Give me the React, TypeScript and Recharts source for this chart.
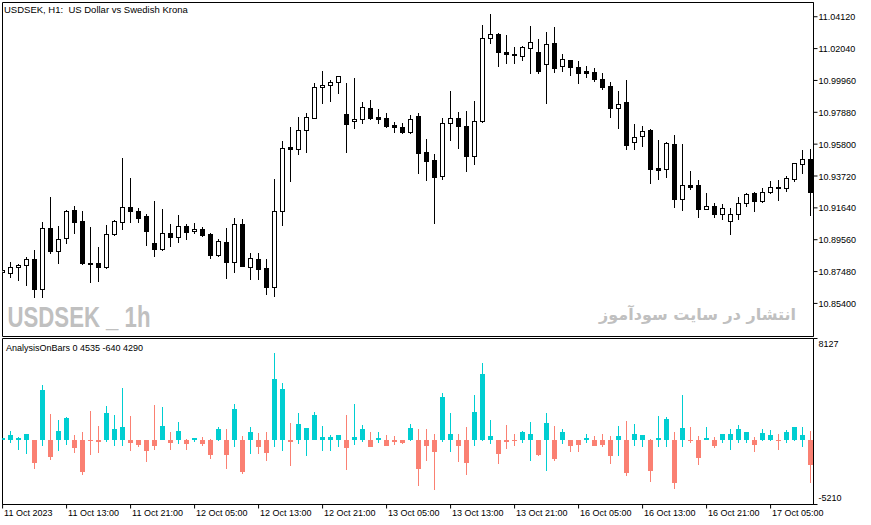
import React from 'react';
import { ComposedChart, Bar, XAxis, YAxis, ReferenceArea, Customized } from 'recharts';

// ---- price candles (USDSEK H1) ----
const opens = [
  10.8745, 10.8740, 10.8776, 10.8789, 10.8830, 10.8632, 10.9030, 10.8884, 10.8965, 10.9150,
  10.9078, 10.8804, 10.8802, 10.8779, 10.8991, 10.9069, 10.9167, 10.9143, 10.9111, 10.8932,
  10.8893, 10.8998, 10.8971, 10.9045, 10.9013, 10.9026, 10.8993, 10.8856, 10.8939, 10.8812,
  10.9056, 10.8779, 10.8830, 10.8769, 10.8649, 10.9145, 10.9561, 10.9546, 10.9672, 10.9752,
  10.9951, 10.9964, 10.9984, 10.9775, 10.9731, 10.9744, 10.9814, 10.9759, 10.9749, 10.9705,
  10.9690, 10.9657, 10.9764, 10.9527, 10.9476, 10.9374, 10.9716, 10.9751, 10.9698, 10.9504,
  10.9733, 11.0271, 11.0299, 11.0181, 11.0170, 11.0155, 11.0206, 11.0180, 11.0101, 11.0238,
  11.0088, 11.0129, 11.0082, 11.0059, 11.0051, 11.0005, 10.9959, 10.9818, 10.9855, 10.9592,
  10.9633, 10.9672, 10.9422, 10.9415, 10.9581, 10.9220, 10.9313, 10.9313, 10.9158, 10.9176,
  10.9122, 10.9076, 10.9122, 10.9194, 10.9259, 10.9209, 10.9265, 10.9295, 10.9295, 10.9350,
  10.9450, 10.9481,
];
const closes = [
  10.8755, 10.8779, 10.8791, 10.8830, 10.8632, 10.9030, 10.8884, 10.8960, 10.9143, 10.9073,
  10.8806, 10.8800, 10.8779, 10.8991, 10.9078, 10.9167, 10.9145, 10.9099, 10.9015, 10.8893,
  10.8998, 10.8971, 10.9045, 10.9008, 10.9026, 10.8986, 10.8856, 10.8947, 10.8812, 10.9056,
  10.8786, 10.8834, 10.8764, 10.8649, 10.9143, 10.9553, 10.9546, 10.9672, 10.9755, 10.9951,
  10.9966, 10.9986, 11.0023, 10.9709, 10.9744, 10.9824, 10.9749, 10.9746, 10.9700, 10.9690,
  10.9661, 10.9742, 10.9524, 10.9472, 10.9367, 10.9716, 10.9751, 10.9700, 10.9504, 10.9731,
  11.0271, 11.0299, 11.0180, 11.0166, 11.0160, 11.0212, 11.0245, 11.0059, 11.0234, 11.0079,
  11.0139, 11.0082, 11.0046, 11.0046, 11.0003, 10.9955, 10.9818, 10.9844, 10.9576, 10.9626,
  10.9666, 10.9415, 10.9411, 10.9585, 10.9224, 10.9311, 10.9300, 10.9158, 10.9176, 10.9122,
  10.9161, 10.9122, 10.9194, 10.9254, 10.9207, 10.9265, 10.9302, 10.9300, 10.9357, 10.9455,
  10.9481, 10.9269,
];
const highs = [
  10.8771, 10.8812, 10.8797, 10.8845, 10.8889, 10.9069, 10.9233, 10.9045, 10.9150, 10.9176,
  10.9145, 10.9041, 10.8910, 10.9052, 10.9084, 10.9487, 10.9357, 10.9161, 10.9124, 10.9209,
  10.9154, 10.9056, 10.9117, 10.9058, 10.9063, 10.9041, 10.8998, 10.8960, 10.9030, 10.9096,
  10.9091, 10.8871, 10.8871, 10.8828, 10.9350, 10.9600, 10.9694, 10.9755, 10.9781, 10.9977,
  11.0057, 10.9999, 11.0024, 10.9979, 11.0012, 10.9853, 10.9868, 10.9809, 10.9781, 10.9726,
  10.9716, 10.9770, 10.9781, 10.9611, 10.9515, 10.9751, 10.9929, 10.9792, 10.9798, 10.9863,
  11.0358, 11.0430, 11.0304, 11.0292, 11.0216, 11.0223, 11.0351, 11.0264, 11.0310, 11.0343,
  11.0166, 11.0131, 11.0123, 11.0090, 11.0075, 11.0042, 10.9986, 10.9929, 10.9999, 10.9711,
  10.9698, 10.9681, 10.9607, 10.9594, 10.9639, 10.9581, 10.9404, 10.9346, 10.9263, 10.9197,
  10.9189, 10.9161, 10.9237, 10.9263, 10.9269, 10.9291, 10.9339, 10.9346, 10.9374, 10.9456,
  10.9542, 10.9548,
];
const lows = [
  10.8732, 10.8714, 10.8693, 10.8662, 10.8584, 10.8580, 10.8867, 10.8802, 10.8932, 10.9002,
  10.8797, 10.8682, 10.8688, 10.8769, 10.8986, 10.9024, 10.9073, 10.9073, 10.8921, 10.8849,
  10.8891, 10.8915, 10.8943, 10.8958, 10.8998, 10.8982, 10.8838, 10.8849, 10.8708, 10.8747,
  10.8784, 10.8701, 10.8701, 10.8601, 10.8588, 10.9052, 10.9339, 10.9515, 10.9530, 10.9749,
  10.9850, 10.9863, 10.9916, 10.9530, 10.9687, 10.9720, 10.9744, 10.9720, 10.9694, 10.9661,
  10.9655, 10.9655, 10.9389, 10.9346, 10.9067, 10.9352, 10.9607, 10.9557, 10.9406, 10.9450,
  10.9726, 11.0242, 11.0092, 11.0108, 11.0112, 11.0129, 11.0042, 11.0046, 10.9847, 11.0053,
  11.0059, 11.0031, 10.9981, 11.0020, 10.9994, 10.9938, 10.9759, 10.9683, 10.9550, 10.9546,
  10.9570, 10.9328, 10.9354, 10.9363, 10.9171, 10.9150, 10.9289, 10.9106, 10.9156, 10.9106,
  10.9091, 10.8991, 10.9093, 10.9176, 10.9145, 10.9204, 10.9259, 10.9215, 10.9276, 10.9341,
  10.9393, 10.9117,
];

// ---- AnalysisOnBars indicator (open = 0) ----
const histClose = [
  150, 380, 170, 460, -1910, 3977, -1430, 703, 1741, -679,
  -2627, -96, -150, 2140, 862, 1046, -230, -415, -894, -470,
  1100, -230, 703, -335, 170, -360, -1270, 840, -1270, 2460,
  -2627, 600, -630, -1110, 4910, 4057, -150, 1262, 942, 1980,
  220, 200, 383, -710, 220, 840, -630, 150, -495, -200,
  -260, 918, -2332, -550, -1030, 3418, 460, -470, -1910, 2220,
  5310, 300, -1134, -150, -100, 620, 460, -1214, 1340, -1533,
  620, -470, -415, 150, -470, -415, -1350, 300, -2707, 460,
  383, -2547, 150, 1660, -3506, 942, -100, -1509, 150, -550,
  460, 460, 862, 620, -390, 540, 383, -100, 620, 1022,
  383, -2070,
];
const histHigh = [
  150, 700, 250, 460, 0, 4376, 2060, 1581, 1820, 383,
  647, 2300, 1126, 2700, 1980, 4160, 1900, 0, 0, 2780,
  2645, 600, 1400, 80, 170, 220, 80, 1022, 862, 2860,
  330, 1046, 570, 620, 6990, 4560, 1318, 2165, 942, 2245,
  1100, 383, 383, 1980, 2860, 1180, 647, 620, 383, 330,
  0, 1238, 862, 862, 460, 3713, 2165, 460, 1046, 3578,
  6190, 1581, 0, 1180, 460, 700, 1400, 0, 2140, 1100,
  862, 0, 0, 460, 280, 460, 300, 1100, 1500, 1262,
  383, 80, 1900, 1820, 600, 3578, 1022, 300, 1022, 220,
  460, 862, 1180, 620, 220, 862, 780, 460, 780, 1022,
  1022, 700,
];
const histLow = [
  0, -230, -815, -1160, -2390, -550, -1613, -894, -415, -1078,
  -2811, -1214, -1110, -150, -550, -470, -894, -630, -1830, -815,
  0, -815, -360, -815, -150, -470, -1533, -96, -2332, -630,
  -2730, -1160, -1160, -1693, -630, -894, -2150, -335, -1350, 0,
  -950, -950, -630, -2410, -415, -150, -630, -230, -550, -415,
  -335, -96, -3745, -1750, -4065, -175, -1030, -1830, -2867, -470,
  -96, -360, -1933, -735, -495, -230, -1693, -1290, -2490, -1693,
  -360, -1000, -1000, -230, -550, -630, -1933, -1350, -2947, -550,
  -630, -3426, -630, -630, -3985, -630, -230, -2012, 0, -710,
  -230, -870, -230, -230, -975, -96, -96, -815, -230, -96,
  -630, -3506,
];

// ---- axes ----
const priceTicks = [11.0412, 11.0204, 10.9996, 10.9788, 10.958, 10.9372, 10.9164, 10.8956, 10.8748, 10.854];
const priceDomain = [10.8324, 11.0505];
const indTicks = [8127, -5210];
const indDomain = [-5210, 8127];
const timeTickIndex = [0, 8, 16, 24, 32, 40, 48, 56, 64, 72, 80, 88, 96];
const timeTickLabels = [
  '11 Oct 2023', '11 Oct 13:00', '11 Oct 21:00', '12 Oct 05:00', '12 Oct 13:00',
  '12 Oct 21:00', '13 Oct 05:00', '13 Oct 13:00', '13 Oct 21:00', '16 Oct 05:00',
  '16 Oct 13:00', '16 Oct 21:00', '17 Oct 05:00',
];
const xDomain = [-0.01, 101.365];

const FONT = '"Liberation Sans", Arial, sans-serif';
const CYAN = '#00CED1';
const SALMON = '#FA8072';

const rows = opens.map((o, i) => ({
  i,
  open: o,
  close: closes[i],
  high: highs[i],
  low: lows[i],
  range: [lows[i], highs[i]],
  hClose: histClose[i],
  hHigh: histHigh[i],
  hLow: histLow[i],
  hRange: [histLow[i], histHigh[i]],
}));

const Candle = (props: any) => {
  const { x, y, width, height, payload } = props;
  if (!payload || x == null) return null;
  const { open, close, high, low } = payload;
  const top = Math.min(y, y + height);
  const h = Math.abs(height);
  const span = high - low;
  const py = (v: number) => (span > 0 ? top + ((high - v) / span) * h : top);
  const cx = Math.floor(x + width / 2) + 0.5;
  const yo = py(open);
  const yc = py(close);
  const bull = close >= open;
  const bt = Math.round(Math.min(yo, yc)) + 0.5;
  const bb = Math.round(Math.max(yo, yc)) + 0.5;
  return (
    <g>
      <line x1={cx} x2={cx} y1={Math.round(top)} y2={Math.round(top + h) + 1} stroke="#000" strokeWidth={1} />
      {bb - bt >= 1 ? (
        <rect x={cx - 2} y={bt} width={4} height={bb - bt} fill={bull ? '#fff' : '#000'} stroke="#000" strokeWidth={1} />
      ) : (
        <line x1={cx - 2.5} x2={cx + 2.5} y1={bt} y2={bt} stroke="#000" strokeWidth={1} />
      )}
    </g>
  );
};

const HistBar = (props: any) => {
  const { x, y, width, height, payload } = props;
  if (!payload || x == null) return null;
  const { hClose, hHigh, hLow } = payload;
  const top = Math.min(y, y + height);
  const h = Math.abs(height);
  const span = hHigh - hLow;
  const py = (v: number) => (span > 0 ? top + ((hHigh - v) / span) * h : top);
  const cx = Math.floor(x + width / 2) + 0.5;
  const y0 = Math.round(py(0));
  const yc = Math.round(py(hClose));
  const color = hClose >= 0 ? CYAN : SALMON;
  return (
    <g>
      <line x1={cx} x2={cx} y1={Math.round(top)} y2={Math.round(top + h)} stroke={color} strokeWidth={1} />
      <rect x={cx - 2.5} y={Math.min(y0, yc)} width={5} height={Math.max(1, Math.abs(yc - y0))} fill={color} />
    </g>
  );
};

const PriceTick = (props: any) => {
  const { x, y, payload } = props;
  return (
    <text x={x} y={y + 3.5} fontSize={9} fill="#000" textAnchor="start" fontFamily={FONT}>
      {Number(payload.value).toFixed(5)}
    </text>
  );
};

const IndTick = (props: any) => {
  const { x, y, payload } = props;
  const v = Number(payload.value);
  return (
    <text x={x} y={v > 0 ? y + 8.5 : y - 3.5} fontSize={9} fill="#000" textAnchor="start" fontFamily={FONT}>
      {String(v)}
    </text>
  );
};

const TimeTick = (props: any) => {
  const { x, y, payload } = props;
  const k = timeTickIndex.indexOf(payload.value);
  return (
    <text x={x + 1.5} y={y + 5.5} fontSize={9} fill="#000" textAnchor="start" fontFamily={FONT}>
      {k >= 0 ? timeTickLabels[k] : ''}
    </text>
  );
};

const MainOverlay = () => (
  <g>
    <text x={4} y={13} fontSize={9.5} fill="#000" fontFamily={FONT} style={{ whiteSpace: 'pre' }}>
      {'USDSEK, H1:  US Dollar vs Swedish Krona'}
    </text>
    <text x={7.5} y={327} fontSize={30} fontWeight="bold" fill="#c0c0c0" fontFamily={FONT}
      textLength={143} lengthAdjust="spacingAndGlyphs" style={{ whiteSpace: 'pre' }}>
      {'USDSEK _ 1h'}
    </text>
    <text x={796} y={320} fontSize={16} fontWeight="bold" fill="#c0c0c0" fontFamily='"DejaVu Sans", sans-serif' textAnchor="end">
      انتشار در سایت سودآموز
    </text>
  </g>
);

const IndOverlay = () => (
  <text x={6} y={15} fontSize={9} fill="#000" fontFamily={FONT}>
    AnalysisOnBars 0 4535 -640 4290
  </text>
);

export default function App() {
  return (
    <div style={{ position: 'absolute', left: 0, top: 0, width: 871, height: 525, background: '#fff', fontFamily: FONT }}>
      <div style={{ position: 'absolute', left: 0, top: 0 }}>
        <ComposedChart width={871} height={338} data={rows} margin={{ top: 2.5, right: 0, bottom: 1.5, left: 2.5 }}>
          <XAxis dataKey="i" type="number" domain={xDomain} allowDataOverflow hide />
          <YAxis
            orientation="right"
            width={57.5}
            domain={priceDomain}
            allowDataOverflow
            ticks={priceTicks}
            interval={0}
            tickSize={4}
            tickMargin={1}
            tickLine={{ stroke: '#000' }}
            axisLine={{ stroke: '#000' }}
            tick={PriceTick}
          />
          <Customized component={MainOverlay} />
          <ReferenceArea x1={xDomain[0]} x2={xDomain[1]} y1={priceDomain[0]} y2={priceDomain[1]} fill="none" stroke="#000" strokeWidth={1} ifOverflow="visible" />
          <Bar dataKey="range" barSize={5} isAnimationActive={false} shape={(p: any) => <Candle {...p} />} />
        </ComposedChart>
      </div>
      <div style={{ position: 'absolute', left: 0, top: 336 }}>
        <ComposedChart width={871} height={189} data={rows} margin={{ top: 2.5, right: 0, bottom: 0, left: 2.5 }}>
          <XAxis
            dataKey="i"
            type="number"
            domain={xDomain}
            allowDataOverflow
            ticks={timeTickIndex}
            interval={0}
            height={20.5}
            tickSize={4}
            tickMargin={2}
            tickLine={{ stroke: '#000' }}
            axisLine={{ stroke: '#000' }}
            tick={TimeTick}
          />
          <YAxis
            orientation="right"
            width={57.5}
            domain={indDomain}
            allowDataOverflow
            ticks={indTicks}
            interval={0}
            tickSize={4}
            tickMargin={1}
            tickLine={{ stroke: '#000' }}
            axisLine={{ stroke: '#000' }}
            tick={IndTick}
          />
          <Customized component={IndOverlay} />
          <ReferenceArea x1={xDomain[0]} x2={xDomain[1]} y1={indDomain[0]} y2={indDomain[1]} fill="none" stroke="#000" strokeWidth={1} ifOverflow="visible" />
          <Bar dataKey="hRange" barSize={5} isAnimationActive={false} shape={(p: any) => <HistBar {...p} />} />
        </ComposedChart>
      </div>
    </div>
  );
}
